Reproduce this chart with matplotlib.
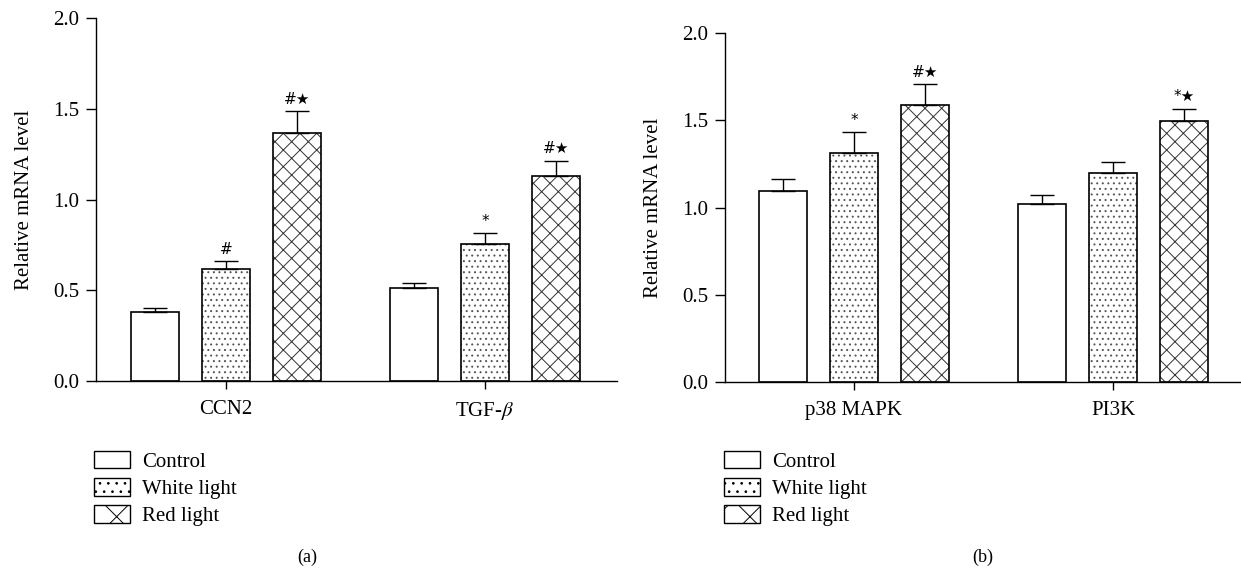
import numpy as np
import matplotlib
matplotlib.use("Agg")
import matplotlib.pyplot as plt
from matplotlib.patches import Patch

plt.rcParams['font.family'] = ['Liberation Serif', 'DejaVu Sans']
plt.rcParams['mathtext.fontset'] = 'stix'
plt.rcParams['hatch.linewidth'] = 0.7

# data
groups = ['Control', 'White light', 'Red light']
genes_a = ['CCN2', 'TGF-$\\beta$']
genes_b = ['p38 MAPK', 'PI3K']

a_control = [0.38, 0.51]
a_white = [0.62, 0.755]
a_red = [1.365, 1.13]
a_control_err = [0.02, 0.032]
a_white_err = [0.043, 0.062]
a_red_err = [0.122, 0.085]
a_marks = [['', ''], ['#', '*'], ['#\u2605', '#\u2605']]

b_control = [1.097, 1.02]
b_white = [1.315, 1.197]
b_red = [1.587, 1.498]
b_control_err = [0.066, 0.053]
b_white_err = [0.115, 0.065]
b_red_err = [0.12, 0.069]
b_marks = [['', ''], ['*', ''], ['#\u2605', '*\u2605']]

hatches = ['', '...', 'xx']
hatch_colors = ['black', '#555555', '#333333']
offsets = [-0.274, 0.0, 0.274]
width = 0.185
fs = 15


def draw_panel(ax, genes, vals, errs, marks, xlim):
    x = np.arange(len(genes))
    for i in range(3):
        xi = x + offsets[i]
        # hatch layer in grey, then black outline on top
        ax.bar(xi, vals[i], width, color='white', edgecolor=hatch_colors[i],
               linewidth=0, hatch=hatches[i], zorder=2)
        ax.bar(xi, vals[i], width, color='none', edgecolor='black',
               linewidth=1.2, zorder=2.5)
        ax.errorbar(xi, vals[i], yerr=[np.zeros(len(genes)), errs[i]],
                    fmt='none', ecolor='black', elinewidth=1.0,
                    capsize=8.5, capthick=1.0, zorder=3)
        for j in range(len(genes)):
            if marks[i][j]:
                ax.annotate(marks[i][j], (xi[j], vals[i][j] + errs[i][j]),
                            xytext=(0, 3), textcoords='offset points',
                            ha='center', va='bottom', fontsize=11,
                            family=['DejaVu Sans'])
    ax.set_xlim(*xlim)
    ax.set_ylim(0, 2.0)
    ax.set_yticks([0, 0.5, 1.0, 1.5, 2.0])
    ax.set_yticklabels(['0.0', '0.5', '1.0', '1.5', '2.0'])
    ax.set_xticks(x)
    ax.set_xticklabels(genes)
    ax.tick_params(axis='y', direction='out', length=7, width=1, labelsize=fs, pad=5)
    ax.tick_params(axis='x', direction='out', length=6, width=1, labelsize=fs, pad=8)
    for s in ['top', 'right']:
        ax.spines[s].set_visible(False)
    for s in ['left', 'bottom']:
        ax.spines[s].set_linewidth(1.0)
    ax.set_ylabel('Relative mRNA level', fontsize=fs)
    ax.yaxis.set_label_coords(-0.12, 0.5)


fig = plt.figure(figsize=(12.41, 5.71), dpi=100)
ax1 = fig.add_axes([0.0774, 0.3327, 0.4198, 0.6357])
ax2 = fig.add_axes([0.5842, 0.331, 0.4158, 0.6112])

draw_panel(ax1, genes_a, [a_control, a_white, a_red],
           [a_control_err, a_white_err, a_red_err], a_marks, (-0.502, 1.51))
draw_panel(ax2, genes_b, [b_control, b_white, b_red],
           [b_control_err, b_white_err, b_red_err], b_marks, (-0.498, 1.494))

handles = [Patch(facecolor='white', edgecolor='black', linewidth=1.0, hatch=h)
           for h in ['', '..', 'x']]
for lx in [0.0757, 0.5834]:
    fig.legend(handles, groups, loc='upper left', bbox_to_anchor=(lx, 1 - 451 / 571),
               bbox_transform=fig.transFigure, frameon=False, fontsize=fs,
               handlelength=1.73, handleheight=0.91, labelspacing=0.3,
               handletextpad=0.58, borderpad=0, borderaxespad=0)

fig.text(307 / 1241, 1 - 557 / 571, '(a)', ha='center', va='center', fontsize=13)
fig.text(983 / 1241, 1 - 557 / 571, '(b)', ha='center', va='center', fontsize=13)

fig.savefig('out.png', dpi=100)
